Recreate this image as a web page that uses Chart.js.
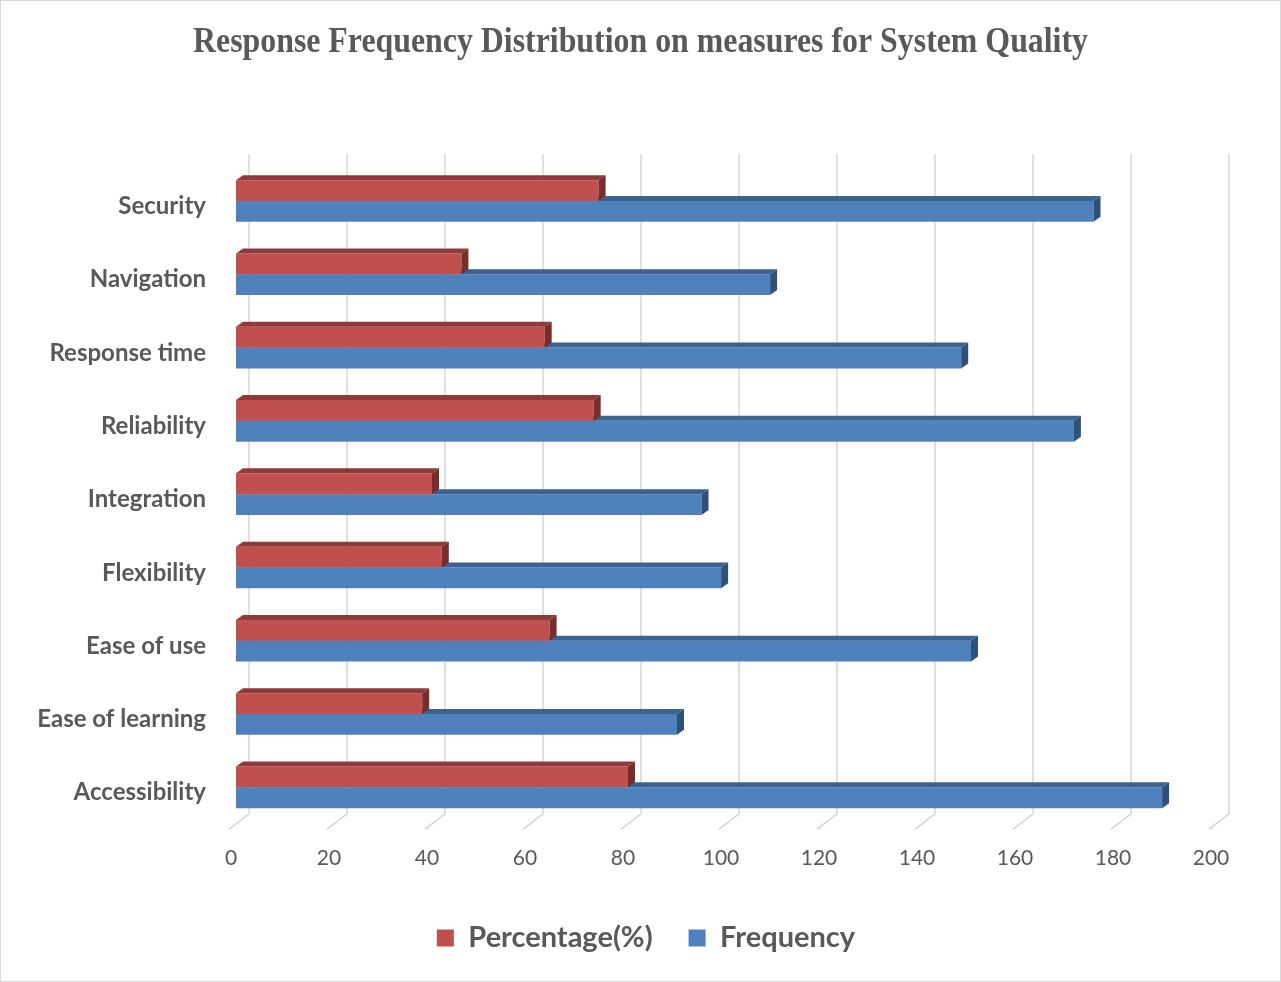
<!DOCTYPE html>
<html>
<head>
<meta charset="utf-8">
<title>Response Frequency Distribution on measures for System Quality</title>
<script src="https://cdn.jsdelivr.net/npm/chart.js@4.4.1/dist/chart.umd.min.js"></script>
<style>
  html, body { margin: 0; padding: 0; background: #ffffff; }
  #wrap { position: relative; width: 1281px; height: 982px; }
  canvas { display: block; }
</style>
</head>
<body>
<div id="wrap"><canvas id="chart" width="1281" height="982"></canvas></div>
<script>
// Survey measures, listed top to bottom
const categories = ['Security', 'Navigation', 'Response time', 'Reliability', 'Integration',
                    'Flexibility', 'Ease of use', 'Ease of learning', 'Accessibility'];
const percentageValues = [74, 46, 63, 73, 40, 42, 64, 38, 80];
const frequencyValues = [175, 109, 148, 171, 95, 99, 150, 90, 189];
const xTickValues = [0, 20, 40, 60, 80, 100, 120, 140, 160, 180, 200];
const seriesNames = ['Percentage(%)', 'Frequency'];
const chartTitle = 'Response Frequency Distribution on measures for System Quality';

// Pseudo-3D geometry (pixel offsets of the box faces and the back wall / floor)
const depth = { barDx: 7, barDy: 5, backDx: 13, backDy: -10, frontDx: -7, frontDy: 5.3 };
const frontColors = ['#C0504D', '#4F81BD'];
const faceColors = [
  { top: '#8e3a38', side: '#772d2b' },
  { top: '#3c6290', side: '#2f5079' }
];
const textColor = '#595959';

const depthPlugin = {
  id: 'depth3d',
  afterLayout(chart) {
    // let the long category names use the free space left of the axis box
    chart.scales.y.left = 0;
  },
  beforeDatasetsDraw(chart) {
    const { ctx, chartArea: a, scales: { x } } = chart;
    ctx.save();
    ctx.strokeStyle = '#d9d9d9';
    ctx.lineWidth = 1.6;
    xTickValues.forEach(v => {
      const px = x.getPixelForValue(v);
      ctx.beginPath();
      ctx.moveTo(px + depth.backDx, a.top + depth.backDy);
      ctx.lineTo(px + depth.backDx, a.bottom + depth.backDy);
      ctx.lineTo(px + depth.frontDx, a.bottom + depth.frontDy);
      ctx.stroke();
    });
    ctx.restore();
  },
  afterDatasetDraw(chart, args) {
    const ctx = chart.ctx;
    const c = faceColors[args.index];
    const dx = depth.barDx, dy = depth.barDy;
    ctx.save();
    args.meta.data.forEach(bar => {
      const { x: xe, y, base, height } = bar.getProps(['x', 'y', 'base', 'height'], true);
      const yt = y - height / 2, yb = y + height / 2;
      ctx.fillStyle = c.top;
      ctx.beginPath();
      ctx.moveTo(base, yt);
      ctx.lineTo(xe, yt);
      ctx.lineTo(xe + dx, yt - dy);
      ctx.lineTo(base + dx, yt - dy);
      ctx.closePath();
      ctx.fill();
      ctx.fillStyle = c.side;
      ctx.beginPath();
      ctx.moveTo(xe, yt);
      ctx.lineTo(xe + dx, yt - dy);
      ctx.lineTo(xe + dx, yb - dy);
      ctx.lineTo(xe, yb);
      ctx.closePath();
      ctx.fill();
    });
    ctx.restore();
  },
  afterDraw(chart) {
    const ctx = chart.ctx;
    ctx.save();
    // condensed serif heading
    ctx.font = 'bold 36px "Liberation Serif", "Times New Roman", serif';
    ctx.fillStyle = textColor;
    ctx.textBaseline = 'alphabetic';
    ctx.textAlign = 'center';
    const w = ctx.measureText(chartTitle).width;
    const sx = 895 / w;
    ctx.translate(640.5, 51.5);
    ctx.scale(sx, 1);
    ctx.fillText(chartTitle, 0, 0);
    ctx.restore();
    // outer frame
    ctx.save();
    ctx.strokeStyle = '#d9d9d9';
    ctx.lineWidth = 1;
    ctx.strokeRect(0.5, 0.5, chart.width - 1, chart.height - 1);
    ctx.restore();
  }
};

function draw() {
  const padLeft = 76;
  new Chart(document.getElementById('chart'), {
    type: 'bar',
    data: {
      labels: categories,
      datasets: [
        { label: seriesNames[0], data: percentageValues, backgroundColor: frontColors[0] },
        { label: seriesNames[1], data: frequencyValues, backgroundColor: frontColors[1] }
      ]
    },
    options: {
      indexAxis: 'y',
      responsive: false,
      animation: false,
      events: [],
      datasets: { bar: { categoryPercentage: 0.568, barPercentage: 1.0 } },
      layout: { padding: { left: padLeft, right: 65, top: 164.35, bottom: 19.5 } },
      scales: {
        x: {
          min: 0, max: 200,
          afterBuildTicks(scale) { scale.ticks = xTickValues.map(v => ({ value: v })); },
          afterFit(scale) { scale.height = 63.54; },
          grid: { display: false, drawTicks: false },
          border: { display: false },
          ticks: { labelOffset: -5, padding: 22, color: textColor,
                   font: { family: 'Lato', size: 21 } }
        },
        y: {
          afterFit(scale) { scale.width = 236 - padLeft; },
          grid: { display: false, drawTicks: false },
          border: { display: false },
          ticks: { labelOffset: 5.4, padding: 30, color: textColor,
                   font: { family: 'Lato', size: 24, weight: 'bold' } }
        }
      },
      plugins: {
        title: { display: false },
        tooltip: { enabled: false },
        legend: {
          position: 'bottom',
          labels: { boxWidth: 17, boxHeight: 17, padding: 36, color: textColor,
                    font: { family: 'Lato', size: 29, weight: 'bold' } }
        }
      }
    },
    plugins: [depthPlugin]
  });
}

Promise.all([
  document.fonts.load('21px Lato'),
  document.fonts.load('bold 24px Lato'),
  document.fonts.load('bold 36px "Liberation Serif"')
]).then(draw, draw);
</script>
</body>
</html>
